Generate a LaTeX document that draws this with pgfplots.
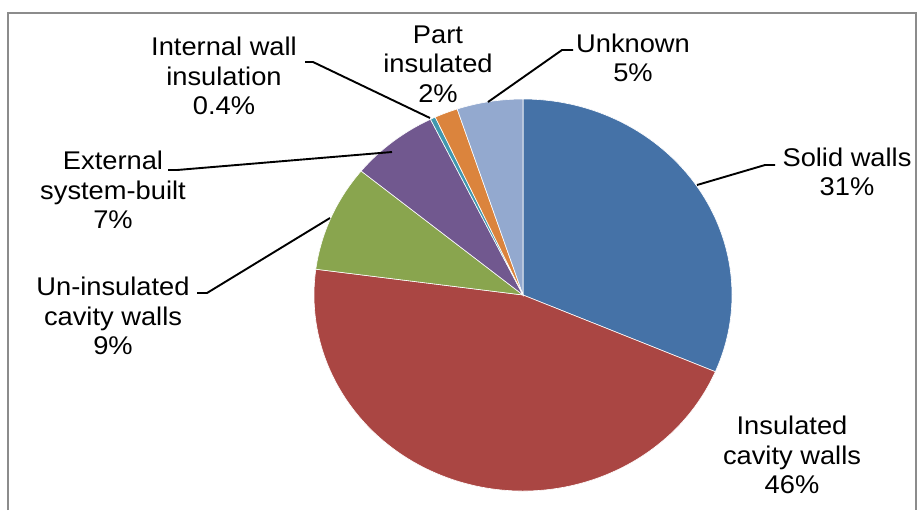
\documentclass[border=0pt]{standalone}
\usepackage{pgfplots}
\pgfplotsset{compat=1.18}
\usepackage{pgfplotstable}
\usepackage{fontspec}
\setmainfont{Liberation Sans}
\definecolor{c0}{HTML}{4572A7}
\definecolor{c1}{HTML}{AA4643}
\definecolor{c2}{HTML}{89A54E}
\definecolor{c3}{HTML}{71588F}
\definecolor{c4}{HTML}{4198AF}
\definecolor{c5}{HTML}{DB843D}
\definecolor{c6}{HTML}{93A9CF}
\definecolor{framegray}{HTML}{8C8C8C}
\tikzset{lbl/.style={align=center, font=\fontsize{12.8}{14.7}\selectfont, inner sep=0pt, xscale=1.066}}

% shares of the pie, clockwise from 12 o'clock
\pgfplotstableread{
label value
Solid 31.4
Insulated 45.7
Uninsulated 8.8
External 6.8
Internal 0.4
Part 1.8
Unknown 5.1
}\piedata

\begin{document}
\begin{tikzpicture}
\begin{axis}[
  width=460pt, height=255pt, scale only axis,
  xmin=0, xmax=920, ymin=0, ymax=510,
  hide axis, clip=false,
]
\addplot[draw=none] coordinates {(0,0) (920,510)};
\def\cum{0}
\pgfplotsforeachungrouped \i in {0,...,6}{%
  \pgfplotstablegetelem{\i}{value}\of\piedata
  \pgfmathsetmacro\sA{90-3.6*\cum}%
  \pgfmathsetmacro\cumnew{\cum+\pgfplotsretval}%
  \pgfmathsetmacro\eA{90-3.6*\cumnew}%
  \let\cum\cumnew
  \edef\temp{\noexpand\fill[c\i, draw=white, line width=0.3pt] (axis cs:523,215) -- ++({104.5pt*cos(\sA)},{98pt*sin(\sA)}) arc[start angle=\sA, end angle=\eA, x radius=104.5pt, y radius=98pt] -- cycle;}%
  \temp
}
% frame
\draw[framegray, line width=1pt] (axis cs:8,0) -- (axis cs:8,497) -- (axis cs:916,497) -- (axis cs:916,0);
% leader lines
\draw[black, line width=0.95pt] (axis cs:305,448) -- (axis cs:313,448) -- (axis cs:430,392);
\draw[black, line width=0.95pt] (axis cs:573,460) -- (axis cs:562,460) -- (axis cs:488,408);
\draw[black, line width=0.95pt] (axis cs:775,345) -- (axis cs:765,345) -- (axis cs:697,325);
\draw[black, line width=0.95pt] (axis cs:168,340) -- (axis cs:177,340) -- (axis cs:392,358);
\draw[black, line width=0.95pt] (axis cs:197,217) -- (axis cs:207,217) -- (axis cs:330,292);
% labels
\node[lbl] at (axis cs:224,434) {Internal wall\\insulation\\0.4\%};
\node[lbl] at (axis cs:438,446) {Part\\insulated\\2\%};
\node[lbl] at (axis cs:633,452) {Unknown\\5\%};
\node[lbl] at (axis cs:847,338) {Solid walls\\31\%};
\node[lbl] at (axis cs:792,55) {Insulated\\cavity walls\\46\%};
\node[lbl] at (axis cs:113,194) {Un-insulated\\cavity walls\\9\%};
\node[lbl] at (axis cs:113,320) {External\\system-built\\7\%};
\end{axis}
\end{tikzpicture}
\end{document}
